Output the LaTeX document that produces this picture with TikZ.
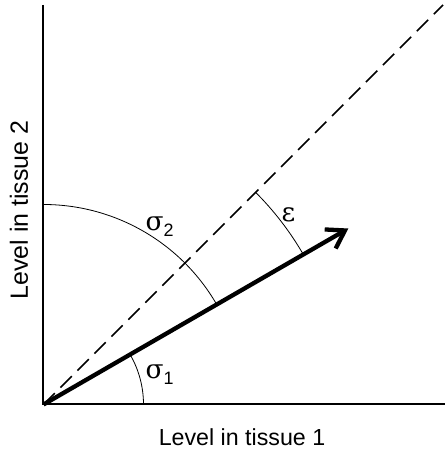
\documentclass[tikz,border=0pt]{standalone}
\usepackage{fontspec}
\setmainfont{Liberation Sans}
\newfontfamily\grk{DejaVu Serif}
\usetikzlibrary{arrows.meta}
\begin{document}
\begin{tikzpicture}[x=1bp,y=1bp,
  axisline/.style={line width=2bp},
  diagline/.style={line width=1.5bp,dash pattern=on 16bp off 8bp},
  vecline/.style={line width=4.3bp,-{Straight Barb[length=17bp,width=22bp]}},
  anglearc/.style={line width=0.8bp},
  lbl/.style={font=\fontsize{23.3}{27}\selectfont,inner sep=0pt},
  glbl/.style={font=\fontsize{26.5}{30}\selectfont,inner sep=0pt,anchor=base west}]
\newcommand{\subdig}[1]{\raisebox{-6bp}{\fontsize{18}{20}\selectfont #1}}
\useasboundingbox (-43.5,-45.5) rectangle (401.5,404.5);
\coordinate (O) at (0,0);
\coordinate (Xe) at (401.5,0);
\coordinate (Ye) at (0,399.5);
\coordinate (De) at (399.5,399.5);
\coordinate (At) at (30:352);
\draw[axisline] (Ye) -- (O) -- (Xe);
\draw[diagline] (O) -- (De);
\draw[anglearc] (0,200) arc[start angle=90,end angle=30,radius=200];
\draw[anglearc] (100,0) arc[start angle=0,end angle=30,radius=100];
\draw[anglearc] (30:300) arc[start angle=30,end angle=45,radius=300];
\draw[vecline] (O) -- (At);
\node[glbl] (s2) at (102,173.5) {{\grk σ}\subdig{2}};
\node[glbl] (s1) at (102,25.5) {{\grk σ}\subdig{1}};
\node[glbl] (eps) at (238,182.5) {\grk ε};
\node[lbl,anchor=base] (xl) at (198.5,-41.5) {Level in tissue 1};
\node[lbl,font=\fontsize{25}{28}\selectfont,anchor=base,rotate=90] (yl) at (-15.5,194.5) {Level in tissue 2};
\end{tikzpicture}
\end{document}
